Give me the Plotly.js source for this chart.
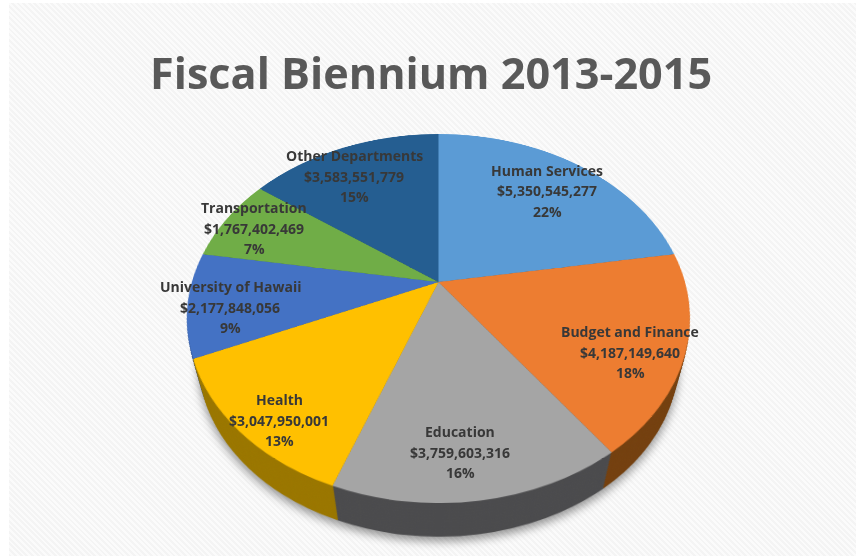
<!DOCTYPE html>
<html>
<head>
<meta charset="utf-8">
<script src="https://cdn.plot.ly/plotly-3.0.1.min.js"></script>
<style>
html,body{margin:0;padding:0;background:#fff;overflow:hidden;width:856px;height:556px}
#bg{position:absolute;left:9px;top:3px;right:0;bottom:0;background:repeating-linear-gradient(45deg,#f4f4f4 0,#f4f4f4 2px,#fbfbfb 2px,#fbfbfb 4px)}
#wall,#chart{position:absolute;left:0;top:0;width:856px;height:556px}
</style>
</head>
<body>
<div id="bg"></div>
<div id="wall"></div>
<div id="chart"></div>
<script>
const titleText = 'Fiscal Biennium 2013-2015';
const departments = ['Human Services','Budget and Finance','Education','Health','University of Hawaii','Transportation','Other Departments'];
const amounts = [5350545277,4187149640,3759603316,3047950001,2177848056,1767402469,3583551779];
const topColors = ['#5B9BD5','#ED7D31','#A5A5A5','#FFC000','#4472C4','#70AD47','#255E91'];
const wallColors = ['#2f5f8c','#74400f','#4b4b4d','#9a7600','#27457a','#3f6a27','#173c5e'];
const labelX = [547,630,460,279,230,254,354];
const labelY = [191,352,452,420,307,228,176];

const W = 856, H = 556;
const total = amounts.reduce((a,b)=>a+b,0);
const money = v => '$' + v.toLocaleString('en-US');
const pct = v => Math.round(v/total*100) + '%';

function pieTrace(colors){
  return {type:'pie',labels:departments,values:amounts,sort:false,direction:'clockwise',rotation:0,
    textinfo:'none',hoverinfo:'none',showlegend:false,domain:{x:[0,1],y:[0,1]},
    marker:{colors:colors,line:{width:0}}};
}
const baseLayout = {width:W,height:H,margin:{l:0,r:0,t:0,b:0},paper_bgcolor:'rgba(0,0,0,0)',plot_bgcolor:'rgba(0,0,0,0)',showlegend:false};

const annotations = [];
departments.forEach((name,i)=>{
  [name,money(amounts[i]),pct(amounts[i])].forEach((line,k)=>{
    annotations.push({xref:'paper',yref:'paper',x:labelX[i]/W,y:1-(labelY[i]+(k-1)*20.5)/H,
      xanchor:'center',yanchor:'middle',showarrow:false,text:line,
      font:{family:'"Open Sans",sans-serif',size:14,color:'#383838',weight:700}});
  });
});
annotations.push({xref:'paper',yref:'paper',x:431/W,y:1-73/H,xanchor:'center',yanchor:'middle',showarrow:false,
  text:'<b>'+titleText+'</b>',font:{family:'"Open Sans",sans-serif',size:43.2,color:'#595959'}});

// perspective projection of the circular pie onto the tilted disc
function persp(depth,scale){
  const R=278, h=0.198, A=246.5*scale, B=177.3*scale, cx=438.5, cy=282+depth;
  const m11=A/R, m21=-cx*h/R, m41=cx*(1+h)-A*428/R;
  const m22=-cy*h/R+B/R, m42=cy*(1+h)-B*278/R;
  const m24=-h/R, m44=1+h;
  return 'matrix3d('+[m11,0,0,0, m21,m22,0,m24, 0,0,1,0, m41,m42,0,m44].join(',')+')';
}
function place(svg,t){
  svg.style.transformOrigin='0 0';
  svg.style.transform=persp(44*t,1-0.047*t);
}

Promise.all([
  Plotly.newPlot('wall',[pieTrace(wallColors)],baseLayout,{displayModeBar:false,staticPlot:true}),
  Plotly.newPlot('chart',[pieTrace(topColors)],Object.assign({},baseLayout,{annotations}),{displayModeBar:false,staticPlot:true})
]).then(()=>{
  const base=document.querySelector('#wall svg.main-svg');
  place(base,1);
  base.style.filter='drop-shadow(0 5px 5px rgba(0,0,0,.4))';
  const steps=22;
  let after=base;
  for(let i=1;i<steps;i++){
    const c=base.cloneNode(true);
    c.style.filter='none';
    place(c,1-i/steps);
    after.parentNode.insertBefore(c,after.nextSibling);
    after=c;
  }
  place(document.querySelector('#chart svg.main-svg'),0);
});
</script>
</body>
</html>
